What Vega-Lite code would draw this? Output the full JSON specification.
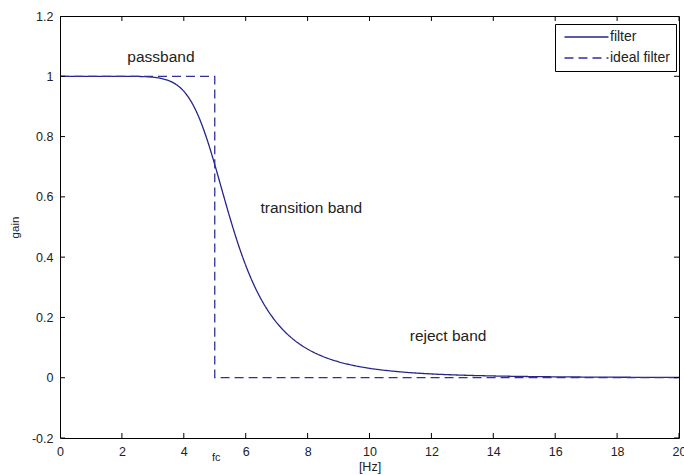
{
  "$schema": "https://vega.github.io/schema/vega-lite/v6.json",
  "width": 619,
  "height": 422,
  "autosize": "none",
  "padding": {"left": 60, "top": 16, "right": 5, "bottom": 37},
  "background": "white",
  "config": {
    "font": "Liberation Sans",
    "view": {"stroke": "#000", "strokeWidth": 1},
    "axis": {
      "labelFont": "Liberation Sans",
      "labelFontSize": 12.5,
      "labelColor": "#222",
      "labelFlush": false,
      "ticks": false,
      "tickSize": 0,
      "domain": false,
      "grid": false,
      "titleFont": "Liberation Sans",
      "titleFontWeight": "normal",
      "titleColor": "#222"
    },
    "text": {"font": "Liberation Sans", "color": "#222"}
  },
  "datasets": {
    "response": [
      {"series": "filter", "n": 0, "freq": 0, "gain": 1},
      {"series": "filter", "n": 1, "freq": 0.5, "gain": 1},
      {"series": "filter", "n": 2, "freq": 1, "gain": 1},
      {"series": "filter", "n": 3, "freq": 1.5, "gain": 1},
      {"series": "filter", "n": 4, "freq": 2, "gain": 0.99995},
      {"series": "filter", "n": 5, "freq": 2.5, "gain": 0.9995},
      {"series": "filter", "n": 6, "freq": 2.75, "gain": 0.99874},
      {"series": "filter", "n": 7, "freq": 3, "gain": 0.99699},
      {"series": "filter", "n": 8, "freq": 3.25, "gain": 0.99334},
      {"series": "filter", "n": 9, "freq": 3.5, "gain": 0.98617},
      {"series": "filter", "n": 10, "freq": 3.75, "gain": 0.97298},
      {"series": "filter", "n": 11, "freq": 4, "gain": 0.95029},
      {"series": "filter", "n": 12, "freq": 4.25, "gain": 0.91406},
      {"series": "filter", "n": 13, "freq": 4.5, "gain": 0.86108},
      {"series": "filter", "n": 14, "freq": 4.75, "gain": 0.79089},
      {"series": "filter", "n": 15, "freq": 5, "gain": 0.70711},
      {"series": "filter", "n": 16, "freq": 5.25, "gain": 0.61676},
      {"series": "filter", "n": 17, "freq": 5.5, "gain": 0.52751},
      {"series": "filter", "n": 18, "freq": 5.75, "gain": 0.44519},
      {"series": "filter", "n": 19, "freq": 6, "gain": 0.37289},
      {"series": "filter", "n": 20, "freq": 6.25, "gain": 0.31139},
      {"series": "filter", "n": 21, "freq": 6.5, "gain": 0.26006},
      {"series": "filter", "n": 22, "freq": 6.75, "gain": 0.21767},
      {"series": "filter", "n": 23, "freq": 7, "gain": 0.1828},
      {"series": "filter", "n": 24, "freq": 7.25, "gain": 0.15415},
      {"series": "filter", "n": 25, "freq": 7.5, "gain": 0.13056},
      {"series": "filter", "n": 26, "freq": 8, "gain": 0.09494},
      {"series": "filter", "n": 27, "freq": 8.5, "gain": 0.07026},
      {"series": "filter", "n": 28, "freq": 9, "gain": 0.05285},
      {"series": "filter", "n": 29, "freq": 9.5, "gain": 0.04035},
      {"series": "filter", "n": 30, "freq": 10, "gain": 0.03123},
      {"series": "filter", "n": 31, "freq": 11, "gain": 0.0194},
      {"series": "filter", "n": 32, "freq": 12, "gain": 0.01256},
      {"series": "filter", "n": 33, "freq": 13, "gain": 0.00842},
      {"series": "filter", "n": 34, "freq": 14, "gain": 0.00581},
      {"series": "filter", "n": 35, "freq": 15, "gain": 0.00412},
      {"series": "filter", "n": 36, "freq": 16, "gain": 0.00298},
      {"series": "filter", "n": 37, "freq": 17, "gain": 0.00218},
      {"series": "filter", "n": 38, "freq": 18, "gain": 0.00165},
      {"series": "filter", "n": 39, "freq": 19, "gain": 0.00126},
      {"series": "filter", "n": 40, "freq": 20, "gain": 0.00098},
      {"series": "ideal filter", "n": 0, "freq": 0, "gain": 1},
      {"series": "ideal filter", "n": 1, "freq": 5, "gain": 1},
      {"series": "ideal filter", "n": 2, "freq": 5, "gain": 0},
      {"series": "ideal filter", "n": 3, "freq": 20, "gain": 0}
    ],
    "notes": [
      {"label": "passband", "freq": 3.26, "gain": 1.065, "size": 15.5},
      {"label": "transition band", "freq": 8.12, "gain": 0.562, "size": 15.5},
      {"label": "reject band", "freq": 12.54, "gain": 0.137, "size": 15.5},
      {"label": "fc", "freq": 5.05, "gain": -0.267, "size": 11}
    ],
    "freqTicks": [
      {"freq": 0}, {"freq": 2}, {"freq": 4}, {"freq": 6}, {"freq": 8}, {"freq": 10},
      {"freq": 12}, {"freq": 14}, {"freq": 16}, {"freq": 18}, {"freq": 20}
    ],
    "gainTicks": [
      {"gain": -0.2}, {"gain": 0}, {"gain": 0.2}, {"gain": 0.4},
      {"gain": 0.6}, {"gain": 0.8}, {"gain": 1}, {"gain": 1.2}
    ]
  },
  "layer": [
    {
      "data": {"name": "response"},
      "mark": {"type": "line", "strokeWidth": 1.3, "interpolate": "monotone"},
      "encoding": {
        "x": {
          "field": "freq",
          "type": "quantitative",
          "scale": {"domain": [0, 20], "nice": false, "zero": false},
          "axis": {
            "orient": "bottom",
            "values": [0, 2, 4, 6, 8, 10, 12, 14, 16, 18, 20],
            "labelPadding": 7,
            "title": "[Hz]",
            "titleFontSize": 12.5,
            "titlePadding": 3
          }
        },
        "y": {
          "field": "gain",
          "type": "quantitative",
          "scale": {"domain": [-0.2, 1.2], "nice": false, "zero": false},
          "axis": {
            "orient": "left",
            "values": [-0.2, 0, 0.2, 0.4, 0.6, 0.8, 1, 1.2],
            "labelExpr": "datum.value < 0 ? '-' + format(-datum.value, '~g') : format(datum.value, '~g')",
            "labelPadding": 7,
            "title": "gain",
            "titleFontSize": 11.5,
            "titlePadding": 11
          }
        },
        "order": {"field": "n", "type": "quantitative"},
        "color": {
          "field": "series",
          "type": "nominal",
          "scale": {"domain": ["filter", "ideal filter"], "range": ["#25258a", "#30309a"]},
          "legend": {
            "orient": "none",
            "legendX": 495,
            "legendY": 8,
            "title": null,
            "strokeColor": "#000",
            "fillColor": "#fff",
            "padding": 6,
            "symbolType": "M-0.64,0H7.36",
            "symbolSize": 121,
            "symbolStrokeWidth": 1.3,
            "labelFontSize": 14,
            "labelColor": "#222",
            "labelOffset": 35,
            "rowPadding": 7
          }
        },
        "strokeDash": {
          "field": "series",
          "type": "nominal",
          "scale": {"domain": ["filter", "ideal filter"], "range": [[1, 0], [9, 5]]},
          "legend": {
            "orient": "none",
            "legendX": 495,
            "legendY": 8,
            "title": null,
            "strokeColor": "#000",
            "fillColor": "#fff",
            "padding": 6,
            "symbolType": "M-0.64,0H7.36",
            "symbolSize": 121,
            "symbolStrokeWidth": 1.3,
            "labelFontSize": 14,
            "labelColor": "#222",
            "labelOffset": 35,
            "rowPadding": 7
          }
        }
      }
    },
    {
      "data": {"name": "freqTicks"},
      "mark": {"type": "tick", "orient": "vertical", "size": 10, "thickness": 1, "color": "#000", "opacity": 1, "clip": true},
      "encoding": {
        "x": {"field": "freq", "type": "quantitative", "scale": {"domain": [0, 20], "nice": false, "zero": false}},
        "y": {"datum": -0.2, "type": "quantitative"}
      }
    },
    {
      "data": {"name": "freqTicks"},
      "mark": {"type": "tick", "orient": "vertical", "size": 10, "thickness": 1, "color": "#000", "opacity": 1, "clip": true},
      "encoding": {
        "x": {"field": "freq", "type": "quantitative", "scale": {"domain": [0, 20], "nice": false, "zero": false}},
        "y": {"datum": 1.2, "type": "quantitative"}
      }
    },
    {
      "data": {"name": "gainTicks"},
      "mark": {"type": "tick", "orient": "horizontal", "size": 10, "thickness": 1, "color": "#000", "opacity": 1, "clip": true},
      "encoding": {
        "y": {"field": "gain", "type": "quantitative", "scale": {"domain": [-0.2, 1.2], "nice": false, "zero": false}},
        "x": {"datum": 0, "type": "quantitative"}
      }
    },
    {
      "data": {"name": "gainTicks"},
      "mark": {"type": "tick", "orient": "horizontal", "size": 10, "thickness": 1, "color": "#000", "opacity": 1, "clip": true},
      "encoding": {
        "y": {"field": "gain", "type": "quantitative", "scale": {"domain": [-0.2, 1.2], "nice": false, "zero": false}},
        "x": {"datum": 20, "type": "quantitative"}
      }
    },
    {
      "data": {"name": "notes"},
      "mark": {"type": "text", "align": "center", "baseline": "middle"},
      "encoding": {
        "x": {"field": "freq", "type": "quantitative", "scale": {"domain": [0, 20], "nice": false, "zero": false}},
        "y": {"field": "gain", "type": "quantitative", "scale": {"domain": [-0.2, 1.2], "nice": false, "zero": false}},
        "text": {"field": "label", "type": "nominal"},
        "size": {"field": "size", "type": "quantitative", "scale": null}
      }
    }
  ]
}
